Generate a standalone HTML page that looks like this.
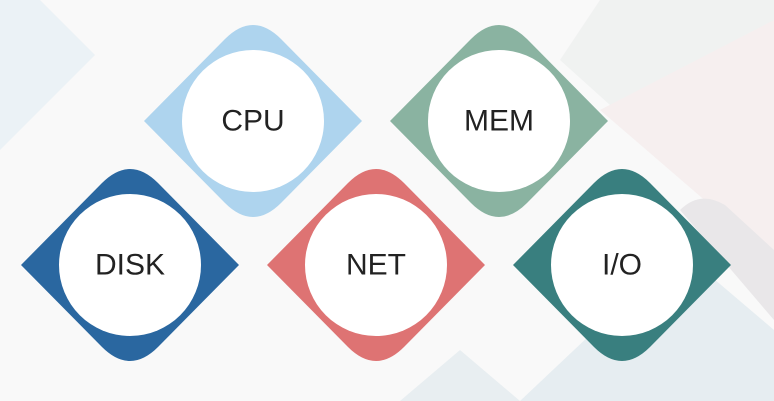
<!DOCTYPE html>
<html><head><style>
html,body{margin:0;padding:0;background:#f9f9f9;}
svg{display:block}
text{font-family:"Liberation Sans",sans-serif;font-size:30px;fill:#222;text-anchor:middle;dominant-baseline:central}
</style></head><body>
<svg width="774" height="401" viewBox="0 0 774 401" xmlns="http://www.w3.org/2000/svg">
<rect width="774" height="401" fill="#f9f9f9"/>
<polygon points="0,0 40,0 95,55 0,150" fill="#e6eff5" opacity="0.7"/>
<polygon points="600,0 774,0 774,40 660,150 560,60" fill="#f0f2f1"/>
<polygon points="600,110 774,20 774,260" fill="#f6efef"/>
<path d="M680,210 Q700,190 725,205 L774,250 L774,320 Z" fill="#e9e7e9"/>
<polygon points="520,401 680,250 774,330 774,401" fill="#e6edf1"/>
<polygon points="400,401 460,350 520,401" fill="#e8eef1"/>
<path d="M144,121 L225,39 Q253,11 281,39 L362,121 L281,203 Q253,231 225,203 Z" fill="#aed4ee"/>
<circle cx="253" cy="121" r="71" fill="#fff"/>
<text x="253" y="121">CPU</text>
<path d="M390,121 L471,39 Q499,11 527,39 L608,121 L527,203 Q499,231 471,203 Z" fill="#8ab3a1"/>
<circle cx="499" cy="121" r="71" fill="#fff"/>
<text x="499" y="121">MEM</text>
<path d="M21,265 L102,183 Q130,155 158,183 L239,265 L158,347 Q130,375 102,347 Z" fill="#2a67a0"/>
<circle cx="130" cy="265" r="71" fill="#fff"/>
<text x="130" y="265">DISK</text>
<path d="M267,265 L348,183 Q376,155 404,183 L485,265 L404,347 Q376,375 348,347 Z" fill="#de7373"/>
<circle cx="376" cy="265" r="71" fill="#fff"/>
<text x="376" y="265">NET</text>
<path d="M513,265 L594,183 Q622,155 650,183 L731,265 L650,347 Q622,375 594,347 Z" fill="#397f7f"/>
<circle cx="622" cy="265" r="71" fill="#fff"/>
<text x="622" y="265">I/O</text>
</svg>
</body></html>
